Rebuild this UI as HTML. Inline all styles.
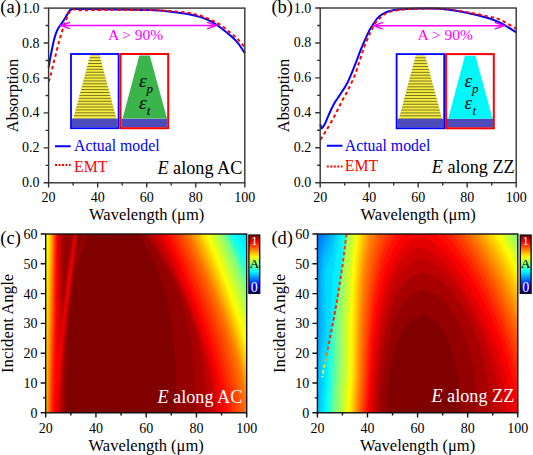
<!DOCTYPE html><html><head><meta charset="utf-8"><style>html,body{margin:0;padding:0;background:#fff;overflow:hidden;}svg{display:block;}text{font-family:"Liberation Serif",serif;}</style></head><body>
<svg width="533" height="455" viewBox="0 0 533 455">
<rect width="533" height="455" fill="#fff"/>
<clipPath id="cc"><rect x="45.7" y="234.0" width="201.00" height="178.80"/></clipPath>
<g clip-path="url(#cc)">
<rect x="44.7" y="233.0" width="203.00" height="180.80" fill="#00dbff"/>
<path fill="#00f0ff" fill-rule="evenodd" d="M247.7 413.5L44.7 413.5L44.7 233.0L241.6 233.0L241.6 234.0L246.7 244.4L247.7 244.4L247.7 413.5Z"/>
<path fill="#05fffa" fill-rule="evenodd" d="M247.7 413.5L44.7 413.5L44.7 233.0L236.9 233.0L236.9 234.0L246.7 254.4L247.7 254.4L247.7 413.5Z"/>
<path fill="#1affe5" fill-rule="evenodd" d="M247.7 413.5L44.7 413.5L44.7 233.0L232.8 233.0L232.8 234.0L246.7 263.2L247.7 263.2L247.7 413.5Z"/>
<path fill="#2effd1" fill-rule="evenodd" d="M247.7 413.5L44.7 413.5L44.7 233.0L229.8 233.0L229.8 234.0L246.7 270.1L247.7 270.1L247.7 413.5Z"/>
<path fill="#42ffbd" fill-rule="evenodd" d="M247.7 413.5L44.7 413.5L44.7 233.0L228.0 233.0L228.0 234.0L237.4 254.0L246.7 275.0L247.7 275.0L247.7 413.5Z"/>
<path fill="#57ffa8" fill-rule="evenodd" d="M247.7 413.5L44.7 413.5L44.7 233.0L226.9 233.0L226.9 234.0L237.3 257.0L246.7 279.0L247.7 279.0L247.7 413.5Z"/>
<path fill="#6bff94" fill-rule="evenodd" d="M247.7 413.5L44.7 413.5L44.7 233.0L225.8 233.0L225.8 234.0L236.2 257.5L246.7 282.9L247.7 282.9L247.7 413.5Z"/>
<path fill="#80ff80" fill-rule="evenodd" d="M247.7 413.5L44.7 413.5L44.7 233.0L224.4 233.0L224.4 234.0L236.2 261.5L246.7 287.9L247.7 287.9L247.7 413.5Z"/>
<path fill="#94ff6b" fill-rule="evenodd" d="M247.7 413.5L44.7 413.5L44.7 233.0L222.4 233.0L222.4 234.0L235.2 264.4L246.7 294.1L247.7 294.1L247.7 413.5Z"/>
<path fill="#a8ff57" fill-rule="evenodd" d="M247.7 413.5L44.7 413.5L44.7 233.0L219.9 233.0L219.9 234.0L236.2 273.3L246.7 301.3L247.7 301.3L247.7 413.5Z"/>
<path fill="#bdff42" fill-rule="evenodd" d="M247.7 413.5L44.7 413.5L44.7 233.0L217.4 233.0L217.4 234.0L226.7 256.1L235.2 277.5L246.7 308.8L247.7 308.8L247.7 413.5Z"/>
<path fill="#d1ff2e" fill-rule="evenodd" d="M247.7 413.5L44.7 413.5L44.7 233.0L214.7 233.0L214.7 234.0L224.7 257.9L233.7 280.7L240.7 299.7L246.7 317.1L247.7 317.1L247.7 413.5Z"/>
<path fill="#e5ff1a" fill-rule="evenodd" d="M247.7 413.5L44.7 413.5L44.7 233.0L211.7 233.0L211.7 234.0L222.6 260.0L232.3 285.0L239.9 306.0L246.7 326.5L247.7 326.5L247.7 413.5Z"/>
<path fill="#faff05" fill-rule="evenodd" d="M247.7 413.5L44.7 413.5L44.7 234.0L45.7 234.0L45.7 233.0L208.7 233.0L208.7 234.0L220.4 262.0L231.0 289.5L239.4 313.5L246.7 336.4L247.7 336.4L247.7 413.5Z"/>
<path fill="#fff000" fill-rule="evenodd" d="M247.7 413.5L44.7 413.5L44.7 293.6L45.7 293.6L48.0 233.0L205.9 233.0L205.9 234.0L217.0 260.5L227.4 287.5L237.9 317.5L246.7 346.0L247.7 346.0L247.7 413.5Z"/>
<path fill="#ffdb00" fill-rule="evenodd" d="M247.7 413.5L44.7 413.5L44.7 353.2L45.7 353.2L46.9 299.0L49.2 233.0L203.3 233.0L203.3 234.0L215.9 264.0L227.0 293.0L238.0 325.0L246.7 354.7L247.7 354.7L247.7 413.5Z"/>
<path fill="#ffc700" fill-rule="evenodd" d="M247.7 413.5L45.7 413.5L47.1 329.5L50.2 233.0L200.7 233.0L200.7 234.0L216.4 271.5L226.5 298.0L232.5 315.0L238.0 332.0L242.6 347.5L246.7 362.8L247.7 362.8L247.7 413.5Z"/>
<path fill="#ffb300" fill-rule="evenodd" d="M247.7 413.5L46.3 413.5L47.8 337.0L51.1 233.0L198.1 233.0L198.1 234.0L207.2 255.0L215.2 274.4L226.2 303.3L232.4 321.0L237.9 338.5L242.7 355.0L246.7 370.7L247.7 370.7L247.7 413.5Z"/>
<path fill="#ff9e00" fill-rule="evenodd" d="M247.7 413.5L46.9 413.5L48.2 352.7L51.8 233.0L195.3 233.0L195.3 234.0L211.2 270.6L221.2 295.9L230.7 322.4L238.7 347.8L243.2 364.3L246.7 379.1L247.7 379.1L247.7 413.5Z"/>
<path fill="#ff8a00" fill-rule="evenodd" d="M247.7 413.5L47.6 413.5L48.7 364.5L51.2 286.1L52.4 233.0L192.5 233.0L192.5 234.0L205.7 263.6L217.7 293.0L226.7 317.4L234.7 341.7L241.7 366.6L246.7 389.2L247.7 389.2L247.7 413.5Z"/>
<path fill="#ff7500" fill-rule="evenodd" d="M247.7 413.5L48.2 413.5L51.6 298.0L52.9 233.0L189.7 233.0L189.7 234.0L202.2 261.8L213.7 289.4L222.7 313.2L230.2 335.2L237.2 358.6L242.2 378.8L244.8 392.0L246.7 404.5L247.7 404.5L247.7 413.5Z"/>
<path fill="#ff6100" fill-rule="evenodd" d="M244.2 413.5L49.0 413.5L51.8 318.0L53.6 233.0L186.6 233.0L186.6 234.0L199.2 261.8L210.7 289.4L219.7 313.1L227.7 336.6L234.7 360.4L239.7 381.0L243.2 400.6L244.2 409.5L244.2 413.5Z"/>
<path fill="#ff4c00" fill-rule="evenodd" d="M240.2 413.5L49.8 413.5L52.4 324.0L54.2 233.0L182.8 233.0L182.8 234.0L195.7 262.3L207.2 289.9L216.2 313.6L224.2 337.2L231.0 360.5L236.2 382.0L238.2 392.5L239.7 402.4L240.6 411.5L240.6 413.5L240.2 413.5Z"/>
<path fill="#ff3800" fill-rule="evenodd" d="M236.2 413.5L50.6 413.5L53.5 314.0L54.8 233.0L178.9 233.0L178.9 234.0L191.9 262.5L203.4 290.0L212.3 313.5L220.3 337.0L227.2 360.7L232.3 382.0L234.3 392.5L235.8 402.5L236.6 412.0L236.6 413.5L236.2 413.5Z"/>
<path fill="#ff2400" fill-rule="evenodd" d="M232.2 413.5L51.5 413.5L54.1 326.0L55.4 233.0L174.8 233.0L174.8 234.0L187.7 262.2L199.2 289.6L208.3 313.5L216.2 336.8L223.0 360.0L228.1 381.5L230.2 392.3L231.6 402.0L232.5 411.5L232.6 413.5L232.2 413.5Z"/>
<path fill="#ff0f00" fill-rule="evenodd" d="M228.2 413.5L52.6 413.5L53.6 386.0L54.8 336.5L56.1 233.0L170.6 233.0L170.6 234.0L183.4 262.0L195.0 289.5L204.0 313.0L211.8 336.0L218.4 358.5L223.6 380.0L227.1 399.5L228.1 408.5L228.2 413.5Z"/>
<path fill="#fa0000" fill-rule="evenodd" d="M224.2 413.5L54.0 413.5L55.5 387.5L55.5 362.0L56.8 233.0L166.6 233.0L166.6 234.0L179.5 262.0L190.9 289.0L200.1 313.0L207.9 336.0L214.5 358.5L219.6 379.5L223.1 399.0L224.1 408.5L224.2 413.5Z"/>
<path fill="#e50000" fill-rule="evenodd" d="M220.7 413.5L55.8 413.5L59.2 377.0L61.4 345.5L61.2 343.1L58.7 353.8L58.2 355.3L57.7 355.5L57.2 351.5L57.1 340.5L57.8 233.0L163.2 233.0L163.2 234.0L176.2 262.1L187.7 289.3L196.8 313.0L204.6 336.0L211.3 359.0L216.5 380.5L219.9 400.5L220.8 410.0L221.0 413.5L220.7 413.5ZM66.7 300.5L68.2 292.0L70.7 271.8L71.2 264.4L67.2 292.3L66.7 300.5Z"/>
<path fill="#d10000" fill-rule="evenodd" d="M217.2 413.5L58.1 413.5L60.5 373.0L63.5 337.0L65.5 318.5L71.7 270.8L75.3 236.5L75.2 235.4L72.7 247.7L70.7 260.1L62.2 324.5L60.7 332.8L59.7 335.9L59.2 335.6L58.9 333.5L58.6 325.0L58.8 233.0L75.7 233.0L75.7 234.0L75.7 233.0L159.7 233.0L159.7 234.0L173.1 263.0L184.6 290.0L193.5 313.5L201.0 335.5L208.0 359.5L213.0 380.5L216.4 400.5L217.3 410.0L217.4 413.5L217.2 413.5Z"/>
<path fill="#bd0000" fill-rule="evenodd" d="M61.2 319.9L60.7 319.7L60.5 318.5L60.1 310.5L60.0 233.0L74.3 233.0L70.6 256.5L63.2 310.3L62.2 316.3L61.2 319.9ZM212.7 413.5L60.3 413.5L60.5 396.5L61.1 380.0L63.6 343.0L66.5 316.0L76.8 233.0L154.9 233.0L154.9 234.0L162.7 248.1L170.2 262.6L180.3 284.0L189.8 307.0L197.8 330.0L204.2 352.6L208.7 373.5L210.2 383.0L211.7 394.8L212.5 405.0L212.7 413.5Z"/>
<path fill="#a80000" fill-rule="evenodd" d="M62.7 303.3L62.2 303.4L62.1 302.5L61.7 295.0L61.4 233.0L73.6 233.0L70.5 252.5L65.2 289.8L63.7 299.1L62.7 303.3ZM205.7 413.5L62.0 413.5L62.3 377.5L63.0 361.0L64.2 344.7L67.2 315.7L77.4 233.0L148.4 233.0L148.4 234.0L156.6 246.0L165.0 259.5L175.6 279.0L181.1 290.5L185.6 301.0L189.6 311.5L193.1 322.0L196.1 332.0L199.1 344.0L201.2 354.3L203.2 366.6L204.7 379.4L205.7 392.5L206.1 411.5L206.1 413.5L205.7 413.5Z"/>
<path fill="#940000" fill-rule="evenodd" d="M64.7 280.7L64.2 278.0L64.1 273.0L64.4 233.0L72.7 233.0L66.2 274.5L65.2 279.5L64.7 280.7ZM195.2 413.5L63.7 413.5L63.9 370.0L65.2 343.8L68.2 313.6L78.1 233.0L145.2 233.0L145.2 234.0L156.2 249.6L161.7 258.5L166.7 267.4L171.2 276.3L175.2 285.1L178.7 293.7L182.2 303.6L185.2 313.5L187.7 323.2L189.7 332.6L191.6 343.5L194.0 364.5L195.3 389.5L195.5 413.5L195.2 413.5Z"/>
<path fill="#800000" fill-rule="evenodd" d="M77.7 249.7L77.4 248.5L77.5 246.0L78.9 233.0L82.1 233.0L82.1 234.0L80.2 241.4L77.7 249.7ZM176.2 413.5L65.8 413.5L66.6 364.5L67.2 342.5L68.2 328.2L73.2 278.8L75.7 265.7L78.2 262.7L81.2 255.5L83.5 248.5L87.2 234.0L87.2 233.0L138.6 233.0L138.6 234.0L144.6 244.0L150.2 254.5L157.2 270.2L163.2 287.0L167.7 303.5L171.3 321.5L173.8 340.0L175.4 361.0L176.2 385.0L176.2 413.5Z"/>
</g>
<clipPath id="cd"><rect x="317.4" y="234.0" width="200.40" height="178.80"/></clipPath>
<g clip-path="url(#cd)">
<rect x="316.4" y="233.0" width="202.40" height="180.80" fill="#0075ff"/>
<path fill="#008aff" fill-rule="evenodd" d="M518.4 413.5L316.4 413.5L316.4 259.1L317.4 259.1L318.1 251.0L319.0 244.5L320.3 239.0L322.2 234.0L322.2 233.0L518.4 233.0L518.4 413.5Z"/>
<path fill="#009eff" fill-rule="evenodd" d="M518.4 413.5L316.4 413.5L316.4 323.4L317.4 323.4L318.6 268.5L319.5 258.0L320.8 249.5L322.7 242.5L326.3 234.0L326.3 233.0L518.4 233.0L518.4 413.5Z"/>
<path fill="#00b2ff" fill-rule="evenodd" d="M518.4 413.5L316.4 413.5L316.4 368.1L317.4 368.1L318.2 349.5L319.8 327.0L320.1 278.0L320.5 268.0L321.6 259.0L323.2 251.0L324.4 247.4L328.9 237.0L329.9 234.0L329.9 233.0L518.4 233.0L518.4 413.5Z"/>
<path fill="#00c7ff" fill-rule="evenodd" d="M518.4 413.5L317.9 413.5L319.4 392.0L318.9 391.8L318.5 392.0L318.6 394.0L318.2 394.0L319.4 361.0L322.6 326.0L322.2 278.5L322.6 269.5L323.4 263.0L324.4 258.3L330.5 244.0L332.2 238.0L333.0 233.0L518.4 233.0L518.4 413.5ZM319.4 391.0L319.4 390.0L319.4 391.5L319.4 391.0Z"/>
<path fill="#00dbff" fill-rule="evenodd" d="M518.4 413.5L320.1 413.5L322.3 378.0L321.7 378.0L321.7 380.0L320.9 380.5L320.9 382.5L321.4 362.5L322.4 352.0L325.1 335.0L325.9 326.5L325.8 312.5L324.9 283.0L325.1 275.0L325.7 270.5L326.9 266.0L330.9 256.8L332.4 252.1L334.6 242.0L335.9 233.0L518.4 233.0L518.4 413.5Z"/>
<path fill="#00f0ff" fill-rule="evenodd" d="M518.4 413.5L323.1 413.5L325.0 383.5L325.6 359.0L326.0 358.5L326.0 356.5L326.5 356.0L326.5 354.0L327.0 353.5L327.0 351.5L327.5 351.0L327.5 349.0L327.9 348.5L328.0 346.5L328.4 346.0L328.4 344.0L328.9 343.5L328.9 341.5L329.4 341.0L329.4 339.0L329.9 338.5L330.2 335.0L331.7 292.5L332.5 277.5L333.6 269.5L337.7 245.0L339.0 233.0L518.4 233.0L518.4 413.5Z"/>
<path fill="#05fffa" fill-rule="evenodd" d="M518.4 413.5L325.6 413.5L327.7 380.5L328.4 346.5L328.8 346.0L328.8 344.0L329.2 343.5L329.2 341.5L329.6 341.0L329.6 339.0L330.1 338.5L330.1 336.5L330.6 336.0L330.6 334.0L331.0 333.5L331.0 331.5L331.5 331.0L331.5 329.0L332.0 328.5L332.0 326.0L332.5 325.5L332.5 323.5L333.0 323.0L333.0 321.0L333.5 320.5L333.5 318.0L334.0 317.5L334.0 315.5L334.5 315.0L334.5 312.5L335.0 312.0L335.0 310.0L335.5 309.5L335.5 307.0L335.9 306.5L335.9 304.0L336.4 303.5L336.4 301.0L336.9 300.5L336.9 298.5L337.4 298.0L337.4 295.5L337.9 295.0L337.9 292.5L338.4 292.0L338.4 289.0L338.9 288.5L338.9 286.0L339.4 285.5L339.4 283.0L339.9 282.5L339.9 279.5L340.4 279.0L342.0 233.0L518.4 233.0L518.4 413.5Z"/>
<path fill="#1affe5" fill-rule="evenodd" d="M518.4 413.5L327.1 413.5L329.2 379.5L329.9 339.0L330.3 338.5L330.3 336.5L330.7 336.0L330.8 334.0L331.2 333.5L331.2 331.5L331.7 331.0L331.7 329.0L332.2 328.5L332.2 326.0L332.6 325.5L332.6 323.5L333.1 323.0L333.1 321.0L333.6 320.5L333.6 318.0L334.1 317.5L334.1 315.5L334.6 315.0L334.6 312.5L335.1 312.0L335.1 310.0L335.5 309.5L335.5 307.0L336.0 306.5L336.0 304.0L336.5 303.5L336.5 301.0L337.0 300.5L337.0 298.5L337.5 298.0L337.5 295.5L338.0 295.0L338.0 292.5L338.5 292.0L338.5 289.0L339.0 288.5L339.0 286.0L339.5 285.5L339.5 283.0L340.0 282.5L340.0 279.5L340.5 279.0L340.5 276.5L341.0 276.0L341.0 273.0L341.5 272.5L341.5 269.5L342.0 269.0L342.0 266.0L342.5 265.5L342.5 262.5L343.0 262.0L343.0 259.0L343.4 258.5L343.4 255.0L343.9 254.5L343.9 251.0L344.4 250.5L344.4 247.0L344.9 246.5L344.9 243.0L345.4 242.5L345.4 238.5L345.9 238.0L345.9 233.0L518.4 233.0L518.4 413.5Z"/>
<path fill="#2effd1" fill-rule="evenodd" d="M518.4 413.5L328.3 413.5L330.4 378.5L331.1 334.0L331.4 331.5L331.8 331.0L331.8 329.0L332.3 328.5L332.3 326.0L332.8 325.5L332.8 323.5L333.2 323.0L333.2 321.0L333.7 320.5L333.7 318.0L334.2 317.5L334.2 315.5L334.7 315.0L334.7 312.5L335.2 312.0L335.2 310.0L335.6 309.5L335.6 307.0L336.1 306.5L336.1 304.0L336.6 303.5L336.6 301.0L337.1 300.5L337.1 298.5L337.6 298.0L337.6 295.5L338.1 295.0L338.1 292.5L338.6 292.0L338.6 289.0L339.1 288.5L339.1 286.0L339.6 285.5L339.6 283.0L340.1 282.5L340.1 279.5L340.5 279.0L340.5 276.5L341.0 276.0L341.0 273.0L341.5 272.5L341.5 269.5L342.0 269.0L342.0 266.0L342.5 265.5L342.5 262.5L343.0 262.0L343.0 259.0L343.5 258.5L343.5 255.0L344.0 254.5L344.0 251.0L344.5 250.5L344.5 247.0L345.0 246.5L345.0 243.0L345.5 242.5L345.5 238.5L346.0 238.0L346.0 233.0L518.4 233.0L518.4 413.5Z"/>
<path fill="#42ffbd" fill-rule="evenodd" d="M518.4 413.5L329.7 413.5L331.8 378.5L332.9 323.5L333.4 323.0L333.4 321.0L333.8 320.5L333.8 318.0L334.3 317.5L334.3 315.5L334.8 315.0L334.8 312.5L335.3 312.0L335.3 310.0L335.7 309.5L335.7 307.0L336.2 306.5L336.2 304.0L336.7 303.5L336.7 301.0L337.2 300.5L337.2 298.5L337.7 298.0L337.7 295.5L338.2 295.0L338.2 292.5L338.7 292.0L338.7 289.0L339.1 288.5L339.1 286.0L339.6 285.5L339.6 283.0L340.1 282.5L340.1 279.5L340.6 279.0L340.6 276.5L341.1 276.0L341.1 273.0L341.6 272.5L341.6 269.5L342.1 269.0L342.1 266.0L342.6 265.5L342.6 262.5L343.1 262.0L343.1 259.0L343.6 258.5L343.6 255.0L344.1 254.5L344.1 251.0L344.6 250.5L344.6 247.0L345.1 246.5L345.1 243.0L345.6 242.5L345.6 238.5L346.1 238.0L346.1 233.0L518.4 233.0L518.4 413.5Z"/>
<path fill="#57ffa8" fill-rule="evenodd" d="M518.4 413.5L331.2 413.5L333.3 378.0L334.5 315.5L334.9 315.0L334.9 312.5L335.4 312.0L335.4 310.0L335.8 309.5L335.8 307.0L336.3 306.5L336.3 304.0L336.8 303.5L336.8 301.0L337.3 300.5L337.3 298.5L337.8 298.0L337.8 295.5L338.2 295.0L338.2 292.5L338.7 292.0L338.7 289.0L339.2 288.5L339.2 286.0L339.7 285.5L339.7 283.0L340.2 282.5L340.2 279.5L340.7 279.0L340.7 276.5L341.2 276.0L341.2 273.0L341.7 272.5L341.7 269.5L342.2 269.0L342.2 266.0L342.7 265.5L342.7 262.5L343.2 262.0L343.2 259.0L343.7 258.5L343.7 255.0L344.2 254.5L344.2 251.0L344.6 250.5L344.7 247.0L345.1 246.5L345.1 243.0L345.6 242.5L345.6 238.5L346.1 238.0L346.1 233.0L518.4 233.0L518.4 413.5Z"/>
<path fill="#6bff94" fill-rule="evenodd" d="M518.4 413.5L332.7 413.5L334.9 377.5L335.5 338.0L336.5 304.0L336.9 303.5L336.9 301.0L337.4 300.5L337.4 298.5L337.8 298.0L337.8 295.5L338.3 295.0L338.3 292.5L338.8 292.0L338.8 289.0L339.3 288.5L339.3 286.0L339.8 285.5L339.8 283.0L340.3 282.5L340.3 279.5L340.8 279.0L340.8 276.5L341.3 276.0L341.3 273.0L341.8 272.5L341.8 269.5L342.2 269.0L342.3 266.0L342.7 265.5L342.7 262.5L343.2 262.0L343.2 259.0L343.7 258.5L343.7 255.0L344.2 254.5L344.2 251.0L344.7 250.5L344.7 247.0L345.2 246.5L345.2 243.0L345.7 242.5L345.7 238.5L346.2 238.0L346.2 233.0L518.4 233.0L518.4 413.5Z"/>
<path fill="#80ff80" fill-rule="evenodd" d="M518.4 413.5L334.5 413.5L336.6 378.0L337.3 333.0L338.6 292.5L338.9 292.0L338.9 289.0L339.4 288.5L339.4 286.0L339.9 285.5L339.9 283.0L340.4 282.5L340.4 279.5L340.8 279.0L340.8 276.5L341.3 276.0L341.3 273.0L341.8 272.5L341.8 269.5L342.3 269.0L342.3 266.0L342.8 265.5L342.8 262.5L343.3 262.0L343.3 259.0L343.8 258.5L343.8 255.0L344.3 254.5L344.3 251.0L344.8 250.5L344.8 247.0L345.3 246.5L345.3 243.0L345.8 242.5L345.8 238.5L346.3 238.0L346.3 233.0L518.4 233.0L518.4 413.5Z"/>
<path fill="#94ff6b" fill-rule="evenodd" d="M518.4 413.5L336.4 413.5L338.5 378.5L339.4 330.0L341.1 283.5L342.0 269.5L342.4 269.0L342.4 266.0L342.9 265.5L342.9 262.5L343.4 262.0L343.4 259.0L343.9 258.5L343.9 255.0L344.4 254.5L344.4 251.0L344.9 250.5L344.9 247.0L345.4 246.5L345.4 243.0L345.9 242.5L345.9 238.5L346.4 238.0L346.4 233.0L515.5 233.0L515.5 234.0L517.4 237.6L517.9 238.3L518.4 238.3L518.4 413.5Z"/>
<path fill="#a8ff57" fill-rule="evenodd" d="M518.4 413.5L338.5 413.5L340.6 378.5L341.4 331.5L343.0 286.5L344.9 260.0L347.9 233.0L512.5 233.0L512.5 234.0L517.4 243.2L517.9 244.0L518.4 244.0L518.4 413.5Z"/>
<path fill="#bdff42" fill-rule="evenodd" d="M518.4 413.5L340.6 413.5L342.7 378.5L343.5 331.5L345.1 286.5L347.0 260.0L350.0 233.0L509.4 233.0L509.4 234.0L517.4 249.0L517.9 249.8L518.4 249.8L518.4 413.5Z"/>
<path fill="#d1ff2e" fill-rule="evenodd" d="M518.4 413.5L342.7 413.5L344.9 378.5L345.7 331.0L347.2 286.0L349.1 259.5L352.1 233.0L506.3 233.0L506.3 234.0L517.4 255.0L517.9 255.8L518.4 255.8L518.4 413.5Z"/>
<path fill="#e5ff1a" fill-rule="evenodd" d="M518.4 413.5L344.9 413.5L347.0 378.5L347.8 331.0L349.3 286.0L351.2 259.5L354.2 233.0L503.2 233.0L503.2 234.0L510.4 247.3L517.4 261.1L517.9 261.9L518.4 261.9L518.4 413.5Z"/>
<path fill="#faff05" fill-rule="evenodd" d="M518.4 413.5L346.8 413.5L348.9 378.5L349.7 330.5L351.2 286.0L353.1 259.5L356.2 233.0L500.0 233.0L500.0 234.0L508.9 250.3L517.4 267.3L517.9 268.2L518.4 268.2L518.4 413.5Z"/>
<path fill="#fff000" fill-rule="evenodd" d="M518.4 413.5L348.6 413.5L350.8 378.5L351.5 330.0L353.0 285.5L355.0 259.0L358.1 233.0L496.7 233.0L496.7 234.0L507.4 253.5L517.4 273.9L517.9 274.7L518.4 274.7L518.4 413.5Z"/>
<path fill="#ffdb00" fill-rule="evenodd" d="M518.4 413.5L350.3 413.5L352.5 378.5L353.2 330.5L354.8 286.0L356.9 259.0L360.1 233.0L493.2 233.0L493.2 234.0L500.4 246.6L507.5 260.0L517.4 280.7L517.9 281.6L518.4 281.6L518.4 413.5Z"/>
<path fill="#ffc700" fill-rule="evenodd" d="M518.4 413.5L351.9 413.5L354.1 379.0L354.9 330.5L356.5 286.5L358.6 259.5L362.1 233.0L489.6 233.0L489.6 234.0L496.9 246.6L503.9 259.7L510.9 273.8L517.4 288.1L517.9 289.0L518.4 289.0L518.4 413.5Z"/>
<path fill="#ffb300" fill-rule="evenodd" d="M518.4 413.5L353.4 413.5L355.5 379.5L356.4 330.5L358.1 287.0L360.5 259.5L364.3 233.0L485.8 233.0L485.8 234.0L494.3 248.5L502.4 263.6L510.1 279.5L517.4 295.9L517.9 296.8L518.4 296.8L518.4 413.5Z"/>
<path fill="#ff9e00" fill-rule="evenodd" d="M518.4 413.5L354.8 413.5L356.8 380.0L357.8 330.5L359.7 288.0L360.9 273.4L362.4 259.7L366.6 233.0L481.9 233.0L481.9 234.0L491.4 250.0L500.8 267.5L509.4 285.5L517.4 304.1L517.9 305.1L518.4 305.1L518.4 413.5Z"/>
<path fill="#ff8a00" fill-rule="evenodd" d="M518.4 413.5L356.1 413.5L358.2 381.0L359.3 330.5L361.4 289.5L362.7 274.5L364.4 260.5L369.1 233.0L477.7 233.0L477.7 234.0L488.4 251.6L498.9 271.2L508.5 291.5L517.4 312.8L517.9 313.8L518.4 313.8L518.4 413.5Z"/>
<path fill="#ff7500" fill-rule="evenodd" d="M518.4 413.5L357.6 413.5L359.6 382.0L360.9 331.7L363.2 292.0L364.4 278.7L366.4 263.1L368.9 248.0L371.9 233.0L473.4 233.0L473.4 234.0L480.4 245.0L487.4 256.9L497.0 275.0L507.9 298.3L517.4 321.9L517.9 323.0L518.4 323.0L518.4 413.5Z"/>
<path fill="#ff6100" fill-rule="evenodd" d="M518.4 413.5L359.1 413.5L361.2 380.5L362.9 330.1L365.4 294.4L367.0 280.0L369.8 260.5L372.1 248.5L375.7 234.0L375.7 233.0L468.8 233.0L468.8 234.0L476.4 245.5L484.4 258.9L495.4 279.6L505.6 301.5L511.9 316.9L517.4 331.7L517.9 332.8L518.4 332.8L518.4 413.5Z"/>
<path fill="#ff4c00" fill-rule="evenodd" d="M518.4 413.5L360.7 413.5L362.9 381.5L364.9 332.5L366.4 312.5L368.4 292.0L370.4 276.2L373.1 260.5L375.9 248.3L380.2 234.0L380.2 233.0L463.7 233.0L463.7 234.0L472.4 246.5L480.4 259.5L486.9 271.1L493.4 283.7L499.4 296.3L504.9 309.0L511.4 325.2L517.4 342.2L517.9 343.4L518.4 343.4L518.4 413.5Z"/>
<path fill="#ff3800" fill-rule="evenodd" d="M518.4 413.5L362.4 413.5L364.6 381.5L366.7 338.0L368.7 313.5L370.8 294.5L373.3 277.5L376.6 261.0L380.1 248.0L385.1 234.0L385.1 233.0L458.2 233.0L458.2 234.0L467.4 246.6L476.6 261.0L484.0 274.0L491.4 288.2L498.3 303.0L504.7 318.0L511.5 336.0L517.4 353.9L517.9 355.2L518.4 355.2L518.4 413.5Z"/>
<path fill="#ff2400" fill-rule="evenodd" d="M518.4 413.5L364.1 413.5L366.4 381.0L368.9 335.0L370.9 313.1L373.1 295.0L376.1 277.5L379.9 261.0L383.9 248.0L386.9 240.3L389.8 234.0L389.8 233.0L452.0 233.0L452.0 234.0L462.9 248.0L469.9 258.4L476.4 268.9L482.9 280.5L489.4 293.1L495.4 305.9L500.9 318.6L506.1 332.0L510.9 345.5L517.4 366.8L517.9 368.3L518.4 368.3L518.4 413.5Z"/>
<path fill="#ff0f00" fill-rule="evenodd" d="M518.4 413.5L365.8 413.5L367.8 385.5L369.4 354.6L370.7 336.0L372.9 315.0L375.9 293.8L379.4 276.2L383.9 259.8L388.9 246.5L392.3 239.5L395.6 234.0L395.6 233.0L444.7 233.0L444.7 234.0L454.9 245.7L464.9 259.4L470.9 268.6L476.4 277.8L487.4 298.5L497.4 320.6L506.4 344.2L512.4 363.0L517.9 384.0L518.4 384.0L518.4 413.5Z"/>
<path fill="#fa0000" fill-rule="evenodd" d="M518.4 413.5L367.5 413.5L371.4 355.5L372.8 338.5L375.9 313.5L379.7 292.0L382.0 282.0L384.6 272.5L387.4 263.9L390.5 256.0L393.8 249.0L397.2 243.0L400.9 238.2L405.1 234.0L405.1 233.0L435.2 233.0L435.2 234.0L443.9 241.9L452.9 252.2L460.9 262.8L468.4 274.1L477.4 289.5L486.4 307.0L494.4 324.9L501.4 343.0L507.9 362.5L512.7 380.5L515.9 395.5L517.9 409.1L518.4 409.1L518.4 413.5Z"/>
<path fill="#e50000" fill-rule="evenodd" d="M512.9 413.5L369.4 413.5L373.1 360.0L374.9 341.4L378.4 316.2L380.5 304.5L382.9 293.5L385.9 282.3L388.9 273.0L392.4 264.1L395.8 257.0L398.9 251.8L402.9 246.7L406.9 242.8L411.4 239.5L416.9 237.2L419.9 236.6L422.9 236.4L425.4 237.2L428.4 238.7L435.4 243.6L443.9 251.6L452.9 262.2L461.9 274.6L470.4 288.2L478.9 303.8L486.4 319.4L493.4 336.0L499.5 352.5L504.9 370.0L509.3 387.5L512.2 403.5L513.0 411.0L513.1 413.5L512.9 413.5Z"/>
<path fill="#d10000" fill-rule="evenodd" d="M506.9 413.5L371.4 413.5L374.9 364.5L376.9 344.7L380.4 321.0L384.9 299.7L387.4 290.5L390.6 281.0L393.9 272.7L397.4 265.7L400.9 260.4L404.5 256.0L408.4 252.3L412.4 249.6L414.9 248.4L417.9 247.4L420.9 246.9L423.4 246.9L428.4 249.2L435.4 254.3L444.3 263.0L451.7 272.0L460.2 284.0L468.2 297.0L476.2 312.0L483.3 327.0L489.2 341.5L495.1 358.0L499.7 373.0L503.7 389.0L506.3 403.5L507.1 411.0L507.1 413.5L506.9 413.5Z"/>
<path fill="#bd0000" fill-rule="evenodd" d="M499.4 413.5L373.7 413.5L376.4 376.5L378.9 350.5L382.2 329.0L386.4 309.4L388.9 300.4L391.4 292.7L394.4 285.1L397.4 278.7L400.9 273.1L404.9 268.1L408.9 264.2L412.9 261.4L415.4 260.2L418.4 259.2L421.4 258.8L423.9 258.8L426.9 259.6L430.4 261.1L437.4 265.5L444.9 272.1L452.9 281.0L460.4 291.3L467.4 302.6L474.4 316.0L480.4 329.5L485.9 344.0L490.4 358.2L494.4 373.7L497.4 389.0L499.4 405.0L499.8 413.5L499.4 413.5Z"/>
<path fill="#a80000" fill-rule="evenodd" d="M490.4 413.5L376.6 413.5L378.4 386.4L381.4 356.5L384.4 337.3L388.4 319.5L390.9 310.8L393.4 303.5L395.9 297.3L398.4 292.2L401.9 286.6L405.5 282.0L409.4 278.2L413.4 275.4L415.9 274.2L418.9 273.2L421.9 272.8L424.4 272.9L427.4 273.5L430.9 274.7L434.4 276.4L437.9 278.6L444.9 284.2L451.4 291.1L457.9 299.6L464.4 310.1L469.9 320.9L474.9 332.6L479.4 345.3L483.5 359.5L486.8 374.5L489.1 389.0L490.6 405.0L490.8 413.5L490.4 413.5Z"/>
<path fill="#940000" fill-rule="evenodd" d="M477.4 413.5L380.4 413.5L381.9 389.7L384.5 365.0L387.4 347.4L391.4 330.5L393.9 322.5L396.4 315.8L397.9 312.4L400.9 307.0L404.4 301.8L407.9 297.7L411.4 294.6L414.9 292.4L419.9 290.7L422.4 290.5L425.4 290.7L431.4 292.4L436.9 295.3L442.4 299.7L447.9 305.6L453.2 313.0L458.1 321.5L462.5 331.0L466.5 341.5L469.8 352.5L472.7 364.5L475.0 377.5L476.6 390.5L477.6 405.5L477.7 413.5L477.4 413.5Z"/>
<path fill="#800000" fill-rule="evenodd" d="M460.4 413.5L386.6 413.5L387.4 396.5L389.5 377.5L392.4 360.5L395.9 346.9L397.4 342.4L399.9 336.6L404.9 327.8L407.4 324.5L410.4 321.3L413.4 318.8L416.4 317.1L420.4 315.9L424.4 315.8L428.8 317.0L432.9 319.3L436.9 322.8L440.9 327.5L444.4 333.0L447.7 339.5L450.7 347.0L453.4 355.2L455.8 364.5L457.7 374.0L459.3 385.0L460.3 396.0L460.9 411.0L460.9 413.5L460.4 413.5Z"/>
</g>
<defs><linearGradient id="rl" x1="0" y1="0" x2="0" y2="1"><stop offset="0" stop-color="#ff4400"/><stop offset="0.6" stop-color="#ff2000"/><stop offset="0.78" stop-color="#ff3000"/><stop offset="0.86" stop-color="#ff9000"/><stop offset="0.93" stop-color="#ffe000"/><stop offset="1" stop-color="#e0ffb0"/></linearGradient></defs>
<path d="M346.39 234.00 L345.99 237.67 L345.57 241.34 L345.14 245.00 L344.69 248.67 L344.23 252.34 L343.75 256.01 L343.26 259.67 L342.76 263.34 L342.25 267.01 L341.72 270.68 L341.18 274.34 L340.63 278.01 L340.06 281.68 L339.48 285.35 L338.90 289.02 L338.30 292.68 L337.69 296.35 L337.06 300.02 L336.43 303.69 L335.79 307.35 L335.14 311.02 L334.48 314.69 L333.81 318.36 L333.13 322.02 L332.44 325.69 L331.74 329.36 L331.04 333.03 L330.32 336.70 L329.60 340.36 L328.88 344.03 L328.14 347.70 L327.40 351.37 L326.66 355.03 L325.91 358.70 L325.15 362.37 L324.39 366.04 L323.62 369.70 L322.85 373.37 L322.08 377.04" fill="none" stroke="url(#rl)" stroke-width="2" stroke-dasharray="3.6 2.4"/>
<path d="M48.60 67.50C48.90 65.75 49.80 60.22 50.40 57.00C51.00 53.78 51.62 50.98 52.20 48.20C52.78 45.42 53.32 42.65 53.90 40.30C54.48 37.95 55.10 35.87 55.70 34.10C56.30 32.33 56.87 30.98 57.50 29.70C58.13 28.42 58.75 27.53 59.50 26.40C60.25 25.27 61.17 24.12 62.00 22.90C62.83 21.68 63.67 20.47 64.50 19.10C65.33 17.73 66.23 16.00 67.00 14.70C67.77 13.40 68.43 12.17 69.10 11.30C69.77 10.43 70.27 9.88 71.00 9.50C71.73 9.12 72.00 9.08 73.50 9.00C75.00 8.92 75.58 8.95 80.00 9.00C84.42 9.05 92.50 9.22 100.00 9.30C107.50 9.38 116.67 9.37 125.00 9.50C133.33 9.63 142.70 9.78 150.00 10.10C157.30 10.42 162.55 10.77 168.80 11.40C175.05 12.03 182.18 12.95 187.50 13.90C192.82 14.85 196.63 15.78 200.70 17.10C204.77 18.42 208.47 19.93 211.90 21.80C215.33 23.67 218.17 25.97 221.30 28.30C224.43 30.63 227.88 33.30 230.70 35.80C233.52 38.30 235.85 40.38 238.20 43.30C240.55 46.22 243.70 51.63 244.80 53.30" fill="none" stroke="#0000ff" stroke-width="2"/>
<path d="M48.60 81.60C48.93 80.57 49.82 78.33 50.60 75.40C51.38 72.47 52.38 67.65 53.30 64.00C54.22 60.35 55.20 57.02 56.10 53.50C57.00 49.98 57.83 46.13 58.70 42.90C59.57 39.67 60.42 37.03 61.30 34.10C62.18 31.17 63.12 27.93 64.00 25.30C64.88 22.67 65.77 20.35 66.60 18.30C67.43 16.25 68.03 14.52 69.00 13.00C69.97 11.48 71.40 9.77 72.40 9.20C73.40 8.63 73.90 9.42 75.00 9.60C76.10 9.78 77.33 10.18 79.00 10.30C80.67 10.42 81.50 10.37 85.00 10.30C88.50 10.23 93.33 9.97 100.00 9.90C106.67 9.83 116.67 9.87 125.00 9.90C133.33 9.93 142.70 9.93 150.00 10.10C157.30 10.27 162.55 10.45 168.80 10.90C175.05 11.35 182.18 11.98 187.50 12.80C192.82 13.62 196.63 14.55 200.70 15.80C204.77 17.05 208.47 18.68 211.90 20.30C215.33 21.92 218.17 23.38 221.30 25.50C224.43 27.62 227.88 30.65 230.70 33.00C233.52 35.35 235.85 37.22 238.20 39.60C240.55 41.98 243.70 46.02 244.80 47.30" fill="none" stroke="#ff0000" stroke-width="2" stroke-dasharray="3.4 3"/>
<path d="M320.50 124.40C320.63 125.03 320.95 127.70 321.30 128.20C321.65 128.70 322.05 128.03 322.60 127.40C323.15 126.77 323.72 126.15 324.60 124.40C325.48 122.65 326.80 119.38 327.90 116.90C329.00 114.42 330.10 111.83 331.20 109.50C332.30 107.17 333.12 105.23 334.50 102.90C335.88 100.57 337.85 97.97 339.50 95.50C341.15 93.03 342.90 90.58 344.40 88.10C345.90 85.62 347.23 83.23 348.50 80.60C349.77 77.97 350.70 75.47 352.00 72.30C353.30 69.13 354.90 65.20 356.30 61.60C357.70 58.00 358.95 54.32 360.40 50.70C361.85 47.08 363.47 43.37 365.00 39.90C366.53 36.43 368.18 32.58 369.60 29.90C371.02 27.22 372.22 25.72 373.50 23.80C374.78 21.88 375.90 19.95 377.30 18.40C378.70 16.85 380.10 15.65 381.90 14.50C383.70 13.35 386.05 12.27 388.10 11.50C390.15 10.73 391.63 10.28 394.20 9.90C396.77 9.52 399.45 9.42 403.50 9.20C407.55 8.98 412.10 8.65 418.50 8.60C424.90 8.55 434.08 8.27 441.90 8.90C449.72 9.53 457.58 10.85 465.40 12.40C473.22 13.95 482.95 16.45 488.80 18.20C494.65 19.95 495.93 20.55 500.50 22.90C505.07 25.25 513.58 30.73 516.20 32.30" fill="none" stroke="#0000ff" stroke-width="2"/>
<path d="M320.50 139.60C321.05 138.72 322.57 136.28 323.80 134.30C325.03 132.32 326.12 130.73 327.90 127.70C329.68 124.67 332.30 120.23 334.50 116.10C336.70 111.97 338.90 107.17 341.10 102.90C343.30 98.63 345.50 94.90 347.70 90.50C349.90 86.10 352.35 81.32 354.30 76.50C356.25 71.68 357.87 66.15 359.40 61.60C360.93 57.05 362.05 53.20 363.50 49.20C364.95 45.20 366.70 40.93 368.10 37.60C369.50 34.27 370.62 31.77 371.90 29.20C373.18 26.63 374.38 24.13 375.80 22.20C377.22 20.27 378.62 19.13 380.40 17.60C382.18 16.07 384.20 14.15 386.50 13.00C388.80 11.85 391.37 11.30 394.20 10.70C397.03 10.10 399.45 9.72 403.50 9.40C407.55 9.08 412.10 8.92 418.50 8.80C424.90 8.68 434.08 8.18 441.90 8.70C449.72 9.22 457.58 10.58 465.40 11.90C473.22 13.22 482.95 15.27 488.80 16.60C494.65 17.93 495.93 17.87 500.50 19.90C505.07 21.93 513.58 27.32 516.20 28.80" fill="none" stroke="#ff0000" stroke-width="2" stroke-dasharray="3.4 3"/>
<rect x="48.6" y="8.1" width="196.20" height="174.70" fill="none" stroke="#333" stroke-width="1.4"/>
<path d="M48.60 182.80v4.8M73.12 182.80v2.7M97.65 182.80v4.8M122.18 182.80v2.7M146.70 182.80v4.8M171.22 182.80v2.7M195.75 182.80v4.8M220.28 182.80v2.7M244.80 182.80v4.8M48.60 182.80h-5.0M48.60 165.33h-3.0M48.60 147.86h-5.0M48.60 130.39h-3.0M48.60 112.92h-5.0M48.60 95.45h-3.0M48.60 77.98h-5.0M48.60 60.51h-3.0M48.60 43.04h-5.0M48.60 25.57h-3.0M48.60 8.10h-5.0" stroke="#333" stroke-width="1.4" fill="none"/>
<rect x="320.2" y="8.0" width="196.00" height="174.70" fill="none" stroke="#333" stroke-width="1.4"/>
<path d="M320.20 182.70v4.8M344.70 182.70v2.7M369.20 182.70v4.8M393.70 182.70v2.7M418.20 182.70v4.8M442.70 182.70v2.7M467.20 182.70v4.8M491.70 182.70v2.7M516.20 182.70v4.8M320.20 182.70h-5.0M320.20 165.23h-3.0M320.20 147.76h-5.0M320.20 130.29h-3.0M320.20 112.82h-5.0M320.20 95.35h-3.0M320.20 77.88h-5.0M320.20 60.41h-3.0M320.20 42.94h-5.0M320.20 25.47h-3.0M320.20 8.00h-5.0" stroke="#333" stroke-width="1.4" fill="none"/>
<rect x="45.7" y="234.0" width="201.00" height="178.80" fill="none" stroke="#111" stroke-width="1.4"/>
<path d="M45.70 412.80v4.8M70.83 412.80v2.7M95.95 412.80v4.8M121.08 412.80v2.7M146.20 412.80v4.8M171.32 412.80v2.7M196.45 412.80v4.8M221.57 412.80v2.7M246.70 412.80v4.8M45.70 412.80h-5.0M45.70 397.90h-2.7M45.70 383.00h-5.0M45.70 368.10h-2.7M45.70 353.20h-5.0M45.70 338.30h-2.7M45.70 323.40h-5.0M45.70 308.50h-2.7M45.70 293.60h-5.0M45.70 278.70h-2.7M45.70 263.80h-5.0M45.70 248.90h-2.7M45.70 234.00h-5.0" stroke="#111" stroke-width="1.4" fill="none"/>
<rect x="317.4" y="234.0" width="200.40" height="178.80" fill="none" stroke="#111" stroke-width="1.4"/>
<path d="M317.40 412.80v4.8M342.45 412.80v2.7M367.50 412.80v4.8M392.55 412.80v2.7M417.60 412.80v4.8M442.65 412.80v2.7M467.70 412.80v4.8M492.75 412.80v2.7M517.80 412.80v4.8M317.40 412.80h-5.0M317.40 397.90h-2.7M317.40 383.00h-5.0M317.40 368.10h-2.7M317.40 353.20h-5.0M317.40 338.30h-2.7M317.40 323.40h-5.0M317.40 308.50h-2.7M317.40 293.60h-5.0M317.40 278.70h-2.7M317.40 263.80h-5.0M317.40 248.90h-2.7M317.40 234.00h-5.0" stroke="#111" stroke-width="1.4" fill="none"/>
<text x="48.6" y="201.5" font-size="14" text-anchor="middle" fill="#000" >20</text>
<text x="97.7" y="201.5" font-size="14" text-anchor="middle" fill="#000" >40</text>
<text x="146.7" y="201.5" font-size="14" text-anchor="middle" fill="#000" >60</text>
<text x="195.8" y="201.5" font-size="14" text-anchor="middle" fill="#000" >80</text>
<text x="244.8" y="201.5" font-size="14" text-anchor="middle" fill="#000" >100</text>
<text x="39.6" y="187.3" font-size="14" text-anchor="end" fill="#000" >0.0</text>
<text x="39.6" y="152.4" font-size="14" text-anchor="end" fill="#000" >0.2</text>
<text x="39.6" y="117.4" font-size="14" text-anchor="end" fill="#000" >0.4</text>
<text x="39.6" y="82.5" font-size="14" text-anchor="end" fill="#000" >0.6</text>
<text x="39.6" y="47.5" font-size="14" text-anchor="end" fill="#000" >0.8</text>
<text x="39.6" y="12.6" font-size="14" text-anchor="end" fill="#000" >1.0</text>
<text x="320.2" y="201.5" font-size="14" text-anchor="middle" fill="#000" >20</text>
<text x="369.2" y="201.5" font-size="14" text-anchor="middle" fill="#000" >40</text>
<text x="418.2" y="201.5" font-size="14" text-anchor="middle" fill="#000" >60</text>
<text x="467.2" y="201.5" font-size="14" text-anchor="middle" fill="#000" >80</text>
<text x="516.2" y="201.5" font-size="14" text-anchor="middle" fill="#000" >100</text>
<text x="311.2" y="187.2" font-size="14" text-anchor="end" fill="#000" >0.0</text>
<text x="311.2" y="152.3" font-size="14" text-anchor="end" fill="#000" >0.2</text>
<text x="311.2" y="117.3" font-size="14" text-anchor="end" fill="#000" >0.4</text>
<text x="311.2" y="82.4" font-size="14" text-anchor="end" fill="#000" >0.6</text>
<text x="311.2" y="47.4" font-size="14" text-anchor="end" fill="#000" >0.8</text>
<text x="311.2" y="12.5" font-size="14" text-anchor="end" fill="#000" >1.0</text>
<text x="45.7" y="432.6" font-size="14" text-anchor="middle" fill="#000" >20</text>
<text x="96.0" y="432.6" font-size="14" text-anchor="middle" fill="#000" >40</text>
<text x="146.2" y="432.6" font-size="14" text-anchor="middle" fill="#000" >60</text>
<text x="196.4" y="432.6" font-size="14" text-anchor="middle" fill="#000" >80</text>
<text x="246.7" y="432.6" font-size="14" text-anchor="middle" fill="#000" >100</text>
<text x="37.5" y="417.8" font-size="14" text-anchor="end" fill="#000" >0</text>
<text x="37.5" y="388.0" font-size="14" text-anchor="end" fill="#000" >10</text>
<text x="37.5" y="358.2" font-size="14" text-anchor="end" fill="#000" >20</text>
<text x="37.5" y="328.4" font-size="14" text-anchor="end" fill="#000" >30</text>
<text x="37.5" y="298.6" font-size="14" text-anchor="end" fill="#000" >40</text>
<text x="37.5" y="268.8" font-size="14" text-anchor="end" fill="#000" >50</text>
<text x="37.5" y="239.0" font-size="14" text-anchor="end" fill="#000" >60</text>
<text x="317.4" y="432.6" font-size="14" text-anchor="middle" fill="#000" >20</text>
<text x="367.5" y="432.6" font-size="14" text-anchor="middle" fill="#000" >40</text>
<text x="417.6" y="432.6" font-size="14" text-anchor="middle" fill="#000" >60</text>
<text x="467.7" y="432.6" font-size="14" text-anchor="middle" fill="#000" >80</text>
<text x="517.8" y="432.6" font-size="14" text-anchor="middle" fill="#000" >100</text>
<text x="309.2" y="417.8" font-size="14" text-anchor="end" fill="#000" >0</text>
<text x="309.2" y="388.0" font-size="14" text-anchor="end" fill="#000" >10</text>
<text x="309.2" y="358.2" font-size="14" text-anchor="end" fill="#000" >20</text>
<text x="309.2" y="328.4" font-size="14" text-anchor="end" fill="#000" >30</text>
<text x="309.2" y="298.6" font-size="14" text-anchor="end" fill="#000" >40</text>
<text x="309.2" y="268.8" font-size="14" text-anchor="end" fill="#000" >50</text>
<text x="309.2" y="239.0" font-size="14" text-anchor="end" fill="#000" >60</text>
<text x="146.7" y="219.6" font-size="16.5" text-anchor="middle" fill="#000" >Wavelength (μm)</text>
<text x="418.2" y="219.6" font-size="16.5" text-anchor="middle" fill="#000" >Wavelength (μm)</text>
<text x="146.2" y="450.7" font-size="16.5" text-anchor="middle" fill="#000" >Wavelength (μm)</text>
<text x="417.6" y="450.7" font-size="16.5" text-anchor="middle" fill="#000" >Wavelength (μm)</text>
<text x="0.0" y="0.0" font-size="16.3" text-anchor="middle" fill="#000" transform="translate(17.8 95.5) rotate(-90)">Absorption</text>
<text x="0.0" y="0.0" font-size="16.3" text-anchor="middle" fill="#000" transform="translate(289.4 95.5) rotate(-90)">Absorption</text>
<text x="0.0" y="0.0" font-size="16.8" text-anchor="middle" fill="#000" transform="translate(12.9 323.4) rotate(-90)">Incident Angle</text>
<text x="0.0" y="0.0" font-size="16.8" text-anchor="middle" fill="#000" transform="translate(284.5 323.4) rotate(-90)">Incident Angle</text>
<text x="0.3" y="13.3" font-size="18.5" text-anchor="start" fill="#000" >(a)</text>
<text x="271.4" y="13.3" font-size="18.5" text-anchor="start" fill="#000" >(b)</text>
<text x="0.3" y="243.8" font-size="18.5" text-anchor="start" fill="#000" >(c)</text>
<text x="271.4" y="243.8" font-size="18.5" text-anchor="start" fill="#000" >(d)</text>
<text x="157.4" y="173.5" font-size="18.2" fill="#000"><tspan font-style="italic">E</tspan> along AC</text>
<text x="431.8" y="172.6" font-size="18.2" fill="#000"><tspan font-style="italic">E</tspan> along ZZ</text>
<text x="157.4" y="402.6" font-size="18.2" fill="#fff"><tspan font-style="italic">E</tspan> along AC</text>
<text x="431.4" y="402.0" font-size="18.2" fill="#fff"><tspan font-style="italic">E</tspan> along ZZ</text>
<path d="M55 146.2h15.7M326.8 145.8h15.7" stroke="#0000ff" stroke-width="2"/>
<path d="M55 164.9h15.7M326.8 166.4h15.7" stroke="#ff0000" stroke-width="2" stroke-dasharray="2 1.5"/>
<text x="74.0" y="151.4" font-size="15.8" text-anchor="start" fill="#0000ff" >Actual model</text>
<text x="74.0" y="171.7" font-size="15.8" text-anchor="start" fill="#ff0000" >EMT</text>
<text x="344.8" y="150.6" font-size="15.8" text-anchor="start" fill="#0000ff" >Actual model</text>
<text x="344.8" y="171.3" font-size="15.8" text-anchor="start" fill="#ff0000" >EMT</text>
<path d="M60.8 25.5H216.4M69.6 22.4L60.8 25.5L69.6 28.6M207.6 22.4L216.4 25.5L207.6 28.6" stroke="#ff00ff" stroke-width="1.4" fill="none" stroke-linecap="round"/>
<text x="135.5" y="39.6" font-size="15.5" text-anchor="middle" fill="#ff00ff" >A &gt; 90%</text>
<path d="M373.6 25.7H504.0M382.40000000000003 22.599999999999998L373.6 25.7L382.40000000000003 28.8M495.2 22.599999999999998L504.0 25.7L495.2 28.8" stroke="#ff00ff" stroke-width="1.4" fill="none" stroke-linecap="round"/>
<text x="445.2" y="40.0" font-size="15.5" text-anchor="middle" fill="#ff00ff" >A &gt; 90%</text>
<rect x="71.9" y="118.6" width="45.8" height="8.8" fill="#4b4bb9"/>
<rect x="121.4" y="118.6" width="45.9" height="8.8" fill="#4b4bb9"/>
<defs><pattern id="sta" x="0" y="55.30" width="10" height="2.9" patternUnits="userSpaceOnUse"><rect width="10" height="2.9" fill="#f6ee3e"/><rect y="2.0" width="10" height="0.9" fill="#6e6826"/></pattern></defs>
<path d="M90.1 55.3L99.6 55.3L116.4 118.6L73.3 118.6Z" fill="url(#sta)"/>
<path d="M139.3 55.6L149.8 55.6L167.0 118.6L122.6 118.6Z" fill="#3cb44c"/>
<rect x="71.0" y="54.0" width="47.6" height="74.2" fill="none" stroke="#0000ff" stroke-width="1.8"/>
<rect x="120.5" y="54.0" width="47.7" height="74.2" fill="none" stroke="#ff0000" stroke-width="2"/>
<text x="138.9" y="86.6" font-size="19" font-style="italic">ε</text>
<text x="146.5" y="93.2" font-size="13" font-style="italic">p</text>
<text x="138.9" y="108.6" font-size="19" font-style="italic">ε</text>
<text x="146.8" y="115.2" font-size="13" font-style="italic">t</text>
<rect x="397.5" y="118.7" width="45.8" height="8.8" fill="#4b4bb9"/>
<rect x="447.0" y="118.7" width="45.9" height="8.8" fill="#4b4bb9"/>
<defs><pattern id="stb" x="0" y="55.40" width="10" height="2.9" patternUnits="userSpaceOnUse"><rect width="10" height="2.9" fill="#f6ee3e"/><rect y="2.0" width="10" height="0.9" fill="#6e6826"/></pattern></defs>
<path d="M415.7 55.4L425.2 55.4L442.0 118.7L398.9 118.7Z" fill="url(#stb)"/>
<path d="M464.9 55.7L475.4 55.7L492.6 118.7L448.2 118.7Z" fill="#00f8f8"/>
<rect x="396.6" y="54.1" width="47.6" height="74.2" fill="none" stroke="#0000ff" stroke-width="1.8"/>
<rect x="446.1" y="54.1" width="47.7" height="74.2" fill="none" stroke="#ff0000" stroke-width="2"/>
<text x="464.5" y="86.7" font-size="19" font-style="italic">ε</text>
<text x="472.1" y="93.3" font-size="13" font-style="italic">p</text>
<text x="464.5" y="108.7" font-size="19" font-style="italic">ε</text>
<text x="472.4" y="115.3" font-size="13" font-style="italic">t</text>
<defs><linearGradient id="jet" x1="0" y1="0" x2="0" y2="1"><stop offset="0" stop-color="#800000"/><stop offset="0.125" stop-color="#ff0000"/><stop offset="0.375" stop-color="#ffff00"/><stop offset="0.625" stop-color="#00ffff"/><stop offset="0.875" stop-color="#0000ff"/><stop offset="1" stop-color="#000080"/></linearGradient></defs>
<rect x="248.9" y="235.1" width="10.8" height="58.2" fill="url(#jet)" stroke="#111" stroke-width="1.4"/>
<text x="254.3" y="245.0" font-size="12.5" text-anchor="middle" fill="#fff" >1</text>
<text x="254.3" y="267.6" font-size="13.5" text-anchor="middle" fill="#000" >A</text>
<text x="254.3" y="292.2" font-size="14" text-anchor="middle" fill="#fff" >0</text>
<rect x="520.3" y="235.1" width="10.8" height="58.2" fill="url(#jet)" stroke="#111" stroke-width="1.4"/>
<text x="525.7" y="245.0" font-size="12.5" text-anchor="middle" fill="#fff" >1</text>
<text x="525.7" y="267.6" font-size="13.5" text-anchor="middle" fill="#000" >A</text>
<text x="525.7" y="292.2" font-size="14" text-anchor="middle" fill="#fff" >0</text>
</svg></body></html>
